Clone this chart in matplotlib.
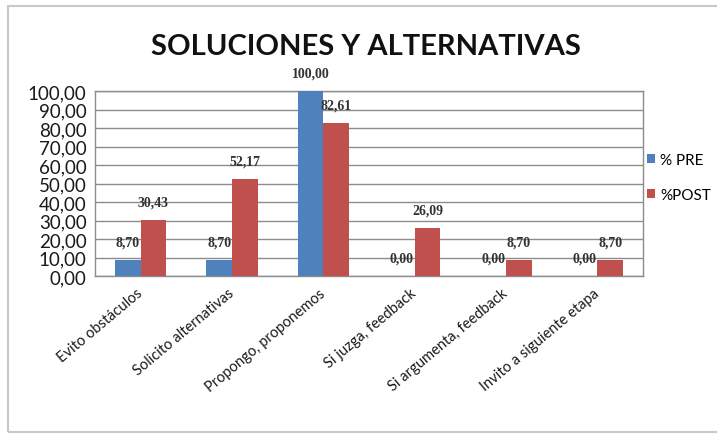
import numpy as np
import matplotlib.pyplot as plt
from matplotlib.patches import Rectangle
from matplotlib.ticker import FuncFormatter

categories = [
    'Evito obstáculos',
    'Solicito alternativas',
    'Propongo, proponemos',
    'Si juzga, feedback',
    'Si argumenta, feedback',
    'Invito a siguiente etapa',
]
pre_values = [8.70, 8.70, 100.00, 0.00, 0.00, 0.00]
post_values = [30.43, 52.17, 82.61, 26.09, 8.70, 8.70]
series_names = ['% PRE', '%POST']

BLUE = '#4F81BD'
RED = '#C0504D'
GRID = '#8c8c8c'


def comma_fmt(v, _pos=None):
    return f'{v:.2f}'.replace('.', ',')


fig = plt.figure(figsize=(7.17, 4.35), dpi=100)
fig.patch.set_facecolor('white')

# light frame around the chart area
fig.patches.append(Rectangle((8 / 717, 2 / 435), 1.2, 426 / 435,
                             transform=fig.transFigure, fill=False,
                             edgecolor='#c8c8c8', linewidth=1.5))

ax = fig.add_axes([95 / 717, (435 - 277) / 435, 548 / 717, 185 / 435])

x = np.arange(len(categories))
w = 0.28
bars_pre = ax.bar(x - w / 2, pre_values, w, color=BLUE, label=series_names[0], zorder=3)
bars_post = ax.bar(x + w / 2, post_values, w, color=RED, label=series_names[1], zorder=3)

# value labels above each bar
for bars, vals in ((bars_pre, pre_values), (bars_post, post_values)):
    for b, v in zip(bars, vals):
        ax.annotate(comma_fmt(v), (b.get_x() + b.get_width() / 2, v),
                    xytext=(0, 13), textcoords='offset points',
                    ha='center', va='center', fontsize=10,
                    family='Liberation Serif', fontweight='bold', color='#333333')

ax.set_xlim(-0.5, len(categories) - 0.5)
ax.set_ylim(0, 100)
ax.set_yticks(np.arange(0, 101, 10))
ax.yaxis.set_major_formatter(FuncFormatter(comma_fmt))
ax.yaxis.grid(True, color=GRID, linewidth=1.0, zorder=0)
ax.set_axisbelow(True)

for side in ('top', 'right', 'left', 'bottom'):
    ax.spines[side].set_color(GRID)
    ax.spines[side].set_linewidth(1.0)

ax.tick_params(axis='y', length=0, pad=6, labelsize=13.5, labelcolor='#1a1a1a')
ax.tick_params(axis='x', length=0, pad=11)
for lab in ax.get_yticklabels():
    lab.set_family('Lato')

ax.set_xticks(x)
ax.set_xticklabels(categories, rotation=40, ha='right', va='center',
                   rotation_mode='anchor', fontsize=10.5, family='Lato',
                   color='#1a1a1a')

fig.text(366 / 717, 1 - 47 / 435, 'SOLUCIONES Y ALTERNATIVAS',
         ha='center', va='center', fontsize=21, fontweight='bold',
         family='Lato', color='#111111')

fig.legend(handles=[bars_pre, bars_post], labels=series_names,
           loc='upper left', bbox_to_anchor=(633 / 717, 1 - 140 / 435),
           frameon=False, handlelength=0.55, handleheight=0.55,
           handletextpad=0.35, labelspacing=1.4,
           prop={'family': 'Lato', 'size': 11})

fig.savefig('out.png', dpi=100, facecolor='white')
